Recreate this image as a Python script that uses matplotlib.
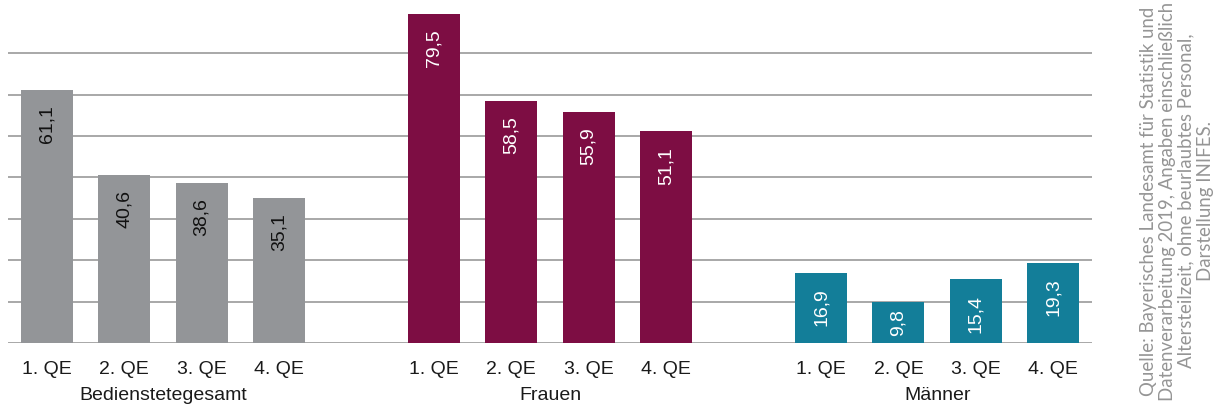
import matplotlib
matplotlib.use("Agg")
import matplotlib.pyplot as plt
import numpy as np

# Daten
gruppen = ["Bedienstetegesamt", "Frauen", "Männer"]
kategorien = ["1. QE", "2. QE", "3. QE", "4. QE"]
gesamt = [61.1, 40.6, 38.6, 35.1]
frauen = [79.5, 58.5, 55.9, 51.1]
maenner = [16.9, 9.8, 15.4, 19.3]
quelle = ("Quelle: Bayerisches Landesamt für Statistik und\n"
          "Datenverarbeitung 2019, Angaben einschließlich\n"
          "Altersteilzeit, ohne beurlaubtes Personal,\n"
          "Darstellung INIFES.")

FARBEN = ["#939598", "#7d0d43", "#137e99"]
TEXTFARBEN = ["#111111", "white", "white"]
GRID = "#a8a8a8"

plt.rcParams["font.family"] = ["Liberation Sans", "DejaVu Sans"]

fig = plt.figure(figsize=(12.19, 4.07), dpi=100)
ax = fig.add_axes([8 / 1219, 64 / 407, (1092 - 8) / 1219, 343 / 407])

for y in range(0, 80, 10):
    ax.axhline(y, color=GRID, linewidth=1.4, zorder=0)

ticks, ticklabels = [], []
for g, (name, werte) in enumerate(zip(gruppen, [gesamt, frauen, maenner])):
    x = np.arange(len(werte)) + g * 5
    ax.bar(x, werte, width=0.67, color=FARBEN[g], zorder=2)
    for xi, v in zip(x, werte):
        lab = f"{v:.1f}".replace(".", ",")
        if v < 15:
            # kurzer Balken: Beschriftung mittig
            ax.text(xi, v / 2, lab, rotation=90, ha="center", va="center",
                    fontsize=14, color=TEXTFARBEN[g], zorder=3)
        else:
            ax.annotate(lab, (xi, v), xytext=(0, -11), textcoords="offset points",
                        rotation=90, ha="center", va="top", fontsize=14,
                        color=TEXTFARBEN[g], zorder=3)
    ticks += list(x)
    ticklabels += kategorien
    ax.annotate(name, (x.mean(), 0), xytext=(0, -32), textcoords="offset points",
                ha="center", va="top", fontsize=14, color="#1a1a1a",
                annotation_clip=False)

ax.set_xticks(ticks, ticklabels, fontsize=14, color="#1a1a1a")
ax.tick_params(axis="x", length=0, pad=13)
ax.set_yticks([])
ax.set_xlim(-0.5, 13.5)
ax.set_ylim(0, 82.85)
for s in ax.spines.values():
    s.set_visible(False)

fig.text(1177 / 1219, 1 - 201 / 407, quelle, rotation=90, ha="center", va="center",
         multialignment="center", fontsize=13.4, color="#959595",
         family=["Lato", "DejaVu Sans"], linespacing=1.12)

fig.savefig("out.png", dpi=100)
